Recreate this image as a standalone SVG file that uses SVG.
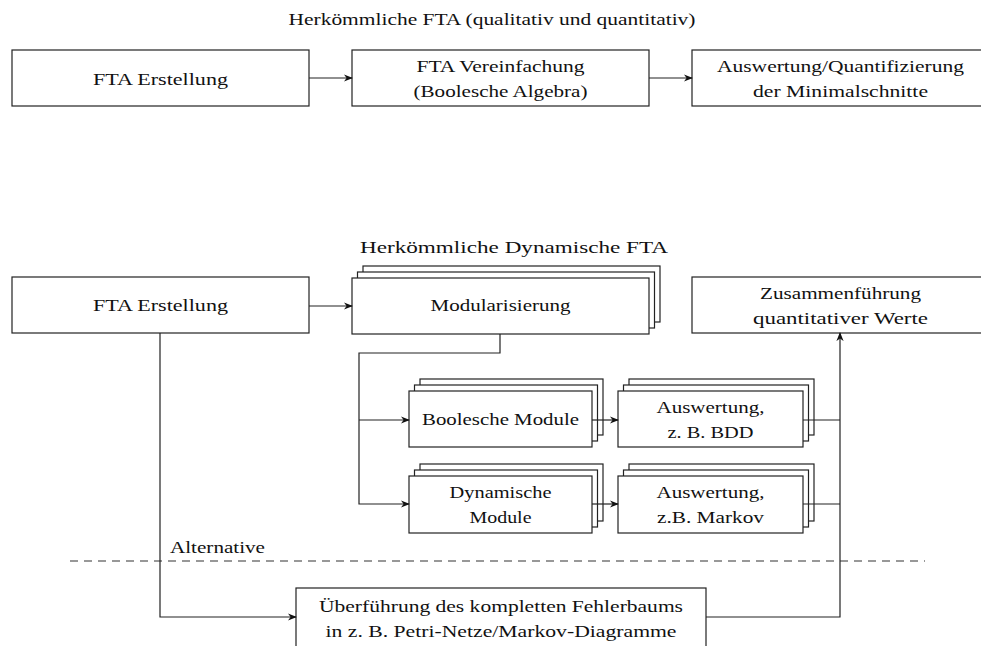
<svg xmlns="http://www.w3.org/2000/svg" width="981" height="646" viewBox="0 0 981 646">
  <defs>
    <marker id="arr" viewBox="0 0 10 10" refX="9" refY="5" markerWidth="9" markerHeight="9" markerUnits="userSpaceOnUse" orient="auto">
      <path d="M0,1 L10,5 L0,9 L3,5 Z" fill="#111"/>
    </marker>
  </defs>
  <style>
    .box { fill: #fff; stroke: #222; stroke-width: 1.2; }
    .c { fill: none; stroke: #222; stroke-width: 1.2; }
    .dash { fill: none; stroke: #333; stroke-width: 1.2; stroke-dasharray: 8 6; }
  </style>
  <rect width="981" height="646" fill="#fff"/>

  <g font-family="Liberation Serif, DejaVu Serif, serif" font-size="17" fill="#111">
  <!-- section headings -->
  <text text-anchor="middle" x="492" y="25" textLength="407" lengthAdjust="spacingAndGlyphs">Herkömmliche FTA (qualitativ und quantitativ)</text>
  <text x="360" y="253" textLength="308" lengthAdjust="spacingAndGlyphs">Herkömmliche Dynamische FTA</text>
  <text x="170" y="553" textLength="95" lengthAdjust="spacingAndGlyphs">Alternative</text>
  <path class="dash" d="M70,561 H925"/>

  <!-- classic FTA chain -->
  <g id="fta-erstellung-1" text-anchor="middle">
    <rect class="box" x="12" y="50" width="297" height="56"/>
    <text x="160.5" y="85" textLength="135" lengthAdjust="spacingAndGlyphs">FTA Erstellung</text>
  </g>
  <g id="fta-vereinfachung" text-anchor="middle">
    <rect class="box" x="352" y="50" width="297" height="56"/>
    <text x="500.5" y="72" textLength="168" lengthAdjust="spacingAndGlyphs">FTA Vereinfachung</text>
    <text x="500.5" y="97" textLength="174" lengthAdjust="spacingAndGlyphs">(Boolesche Algebra)</text>
  </g>
  <g id="auswertung-minimalschnitte" text-anchor="middle">
    <rect class="box" x="692" y="50" width="297" height="56"/>
    <text x="840.5" y="72" textLength="247" lengthAdjust="spacingAndGlyphs">Auswertung/Quantifizierung</text>
    <text x="840.5" y="97" textLength="175" lengthAdjust="spacingAndGlyphs">der Minimalschnitte</text>
  </g>

  <!-- dynamic FTA -->
  <g id="fta-erstellung-2" text-anchor="middle">
    <rect class="box" x="12" y="277" width="297" height="56"/>
    <text x="160.5" y="311" textLength="135" lengthAdjust="spacingAndGlyphs">FTA Erstellung</text>
  </g>
  <g id="modularisierung" text-anchor="middle">
    <rect class="box" x="363" y="266" width="297" height="56"/>
    <rect class="box" x="357.5" y="272" width="297" height="56"/>
    <rect class="box" x="352" y="278" width="297" height="56"/>
    <text x="500.5" y="311" textLength="140" lengthAdjust="spacingAndGlyphs">Modularisierung</text>
  </g>
  <g id="zusammenfuehrung" text-anchor="middle">
    <rect class="box" x="692" y="277" width="297" height="56"/>
    <text x="840.5" y="299" textLength="161" lengthAdjust="spacingAndGlyphs">Zusammenführung</text>
    <text x="840.5" y="324" textLength="175" lengthAdjust="spacingAndGlyphs">quantitativer Werte</text>
  </g>
  <g id="boolesche-module" text-anchor="middle">
    <rect class="box" x="420" y="379" width="183" height="56"/>
    <rect class="box" x="414.5" y="385" width="183" height="56"/>
    <rect class="box" x="409" y="391" width="183" height="56"/>
    <text x="500.5" y="425" textLength="157" lengthAdjust="spacingAndGlyphs">Boolesche Module</text>
  </g>
  <g id="auswertung-bdd" text-anchor="middle">
    <rect class="box" x="629" y="379" width="185" height="56"/>
    <rect class="box" x="623.5" y="385" width="185" height="56"/>
    <rect class="box" x="618" y="391" width="185" height="56"/>
    <text x="710.5" y="413" textLength="108" lengthAdjust="spacingAndGlyphs">Auswertung,</text>
    <text x="710.5" y="438" textLength="86" lengthAdjust="spacingAndGlyphs">z. B. BDD</text>
  </g>
  <g id="dynamische-module" text-anchor="middle">
    <rect class="box" x="420" y="464" width="183" height="57"/>
    <rect class="box" x="414.5" y="470" width="183" height="57"/>
    <rect class="box" x="409" y="476" width="183" height="57"/>
    <text x="500.5" y="498" textLength="102" lengthAdjust="spacingAndGlyphs">Dynamische</text>
    <text x="500.5" y="523" textLength="62" lengthAdjust="spacingAndGlyphs">Module</text>
  </g>
  <g id="auswertung-markov" text-anchor="middle">
    <rect class="box" x="629" y="464" width="185" height="57"/>
    <rect class="box" x="623.5" y="470" width="185" height="57"/>
    <rect class="box" x="618" y="476" width="185" height="57"/>
    <text x="710.5" y="498" textLength="108" lengthAdjust="spacingAndGlyphs">Auswertung,</text>
    <text x="710.5" y="523" textLength="107" lengthAdjust="spacingAndGlyphs">z.B. Markov</text>
  </g>

  <!-- alternative path -->
  <g id="ueberfuehrung" text-anchor="middle">
    <rect class="box" x="296" y="588" width="410" height="62"/>
    <text x="501" y="612" textLength="364" lengthAdjust="spacingAndGlyphs">Überführung des kompletten Fehlerbaums</text>
    <text x="501" y="637" textLength="351" lengthAdjust="spacingAndGlyphs">in z. B. Petri-Netze/Markov-Diagramme</text>
  </g>
  </g>

  <g id="connectors">
    <path class="c" d="M309,78 H352" marker-end="url(#arr)"/>
    <path class="c" d="M649,78 H692" marker-end="url(#arr)"/>
    <path class="c" d="M309,306 H352" marker-end="url(#arr)"/>
    <path class="c" d="M500,334 V353 H359 V504 H409" marker-end="url(#arr)"/>
    <path class="c" d="M359,420 H409" marker-end="url(#arr)"/>
    <path class="c" d="M592,420 H618" marker-end="url(#arr)"/>
    <path class="c" d="M592,504 H618" marker-end="url(#arr)"/>
    <path class="c" d="M803,420 H840"/>
    <path class="c" d="M803,504 H840"/>
    <path class="c" d="M706,617 H840 V333" marker-end="url(#arr)"/>
    <path class="c" d="M160,333 V617 H296" marker-end="url(#arr)"/>
  </g>
</svg>
